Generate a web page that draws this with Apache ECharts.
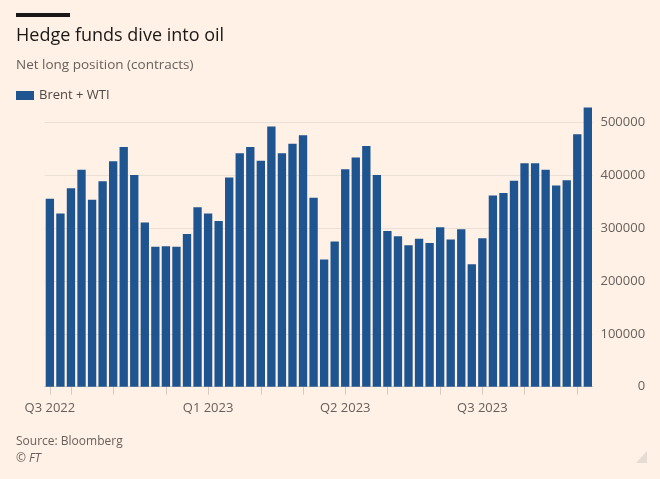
<!DOCTYPE html>
<html>
<head>
<meta charset="utf-8">
<script src="https://cdn.jsdelivr.net/npm/echarts@6/dist/echarts.min.js"></script>
<style>
html,body{margin:0;padding:0;background:#fff1e5;}
#chart{width:660px;height:479px;}
</style>
</head>
<body>
<div id="chart"></div>
<script>
var weeks = [
  '2022-09-20','2022-09-27','2022-10-04','2022-10-11','2022-10-18','2022-10-25',
  '2022-11-01','2022-11-08','2022-11-15','2022-11-22','2022-11-29','2022-12-06',
  '2022-12-13','2022-12-20','2022-12-27','2023-01-03','2023-01-10','2023-01-17',
  '2023-01-24','2023-01-31','2023-02-07','2023-02-14','2023-02-21','2023-02-28',
  '2023-03-07','2023-03-14','2023-03-21','2023-03-28','2023-04-04','2023-04-11',
  '2023-04-18','2023-04-25','2023-05-02','2023-05-09','2023-05-16','2023-05-23',
  '2023-05-30','2023-06-06','2023-06-13','2023-06-20','2023-06-27','2023-07-04',
  '2023-07-11','2023-07-18','2023-07-25','2023-08-01','2023-08-08','2023-08-15',
  '2023-08-22','2023-08-29','2023-09-05','2023-09-12'
];
var netLong = [
  356000, 328000, 376000, 411000, 354000, 389000, 427000, 454000, 401000, 311000,
  265000, 266000, 265000, 289000, 340000, 328000, 314000, 396000, 442000, 454000,
  428000, 493000, 442000, 460000, 476000, 358000, 241000, 275000, 412000, 434000,
  456000, 401000, 295000, 285000, 268000, 280000, 272000, 302000, 279000, 298000,
  232000, 281000, 362000, 367000, 390000, 423000, 423000, 411000, 381000, 391000,
  478000, 529000
];
var tickIndices = [0, 2, 6, 11, 15, 20, 24, 28, 32, 37, 41, 45, 50];
var labelIndices = [0, 15, 28, 41];
var labelTexts = ['Q3 2022', 'Q1 2023', 'Q2 2023', 'Q3 2023'];
var yTicks = [0, 100000, 200000, 300000, 400000, 500000];

var chart = echarts.init(document.getElementById('chart'), null, {renderer: 'canvas'});
var FONT = "'Open Sans', 'Noto Sans', sans-serif";
chart.setOption({
  backgroundColor: '#fff1e5',
  animation: false,
  textStyle: {fontFamily: FONT},
  grid: {left: 44.6, right: 66.9, top: 122.7, bottom: 92.3, containLabel: false},
  legend: {
    left: 11, top: 84, itemWidth: 18, itemHeight: 9, itemGap: 8,
    icon: 'rect',
    textStyle: {fontFamily: FONT, fontSize: 13, color: '#4d4845'},
    data: ['Brent + WTI']
  },
  xAxis: {
    type: 'category',
    data: weeks,
    boundaryGap: true,
    axisLine: {show: true, lineStyle: {color: '#d8cdc3', width: 1}},
    axisTick: {
      show: true, alignWithLabel: true, length: 8,
      lineStyle: {color: '#d3c9bf'},
      interval: function (i) { return tickIndices.indexOf(i) >= 0; }
    },
    axisLabel: {
      interval: function (i) { return labelIndices.indexOf(i) >= 0; },
      formatter: function (v, i) {
        var k = labelIndices.indexOf(i);
        return k >= 0 ? labelTexts[k] : '';
      },
      fontFamily: FONT, fontSize: 13, color: '#66605c', margin: 15
    },
    splitLine: {show: false}
  },
  yAxis: {
    type: 'value',
    position: 'right',
    min: yTicks[0], max: yTicks[yTicks.length - 1], interval: 100000,
    axisLine: {show: false},
    axisTick: {show: false},
    axisLabel: {
      align: 'right', margin: 52,
      formatter: function (v) { return String(v); },
      fontFamily: FONT, fontSize: 13, color: '#66605c'
    },
    splitLine: {show: true, lineStyle: {color: '#ebe0d6', width: 1}}
  },
  series: [{
    name: 'Brent + WTI',
    type: 'bar',
    data: netLong,
    clip: false,
    barCategoryGap: '21%',
    itemStyle: {color: '#1e5590'}
  }],
  graphic: [
    {type: 'rect', left: 16, top: 13, shape: {width: 54, height: 4}, style: {fill: '#1a1817'}},
    {type: 'text', x: 16, y: 36, style: {text: 'Hedge funds dive into oil', font: "18px 'Open Sans', sans-serif", fill: '#1a1817', textVerticalAlign: 'middle'}},
    {type: 'text', x: 16, y: 65, style: {text: 'Net long position (contracts)', font: "13.5px 'Open Sans', sans-serif", fill: '#66605c', textVerticalAlign: 'middle'}},
    {type: 'text', x: 16, y: 442, style: {text: 'Source: Bloomberg', font: "12px 'Open Sans', sans-serif", fill: '#66605c', textVerticalAlign: 'middle'}},
    {type: 'text', x: 16, y: 459, style: {text: '\u00a9 FT', font: "italic 12px 'Open Sans', sans-serif", fill: '#66605c', textVerticalAlign: 'middle'}},
    {type: 'polygon', shape: {points: [[647, 451], [647, 463], [636, 463]]}, style: {fill: '#e6dcd3'}}
  ]
});
</script>
</body>
</html>
